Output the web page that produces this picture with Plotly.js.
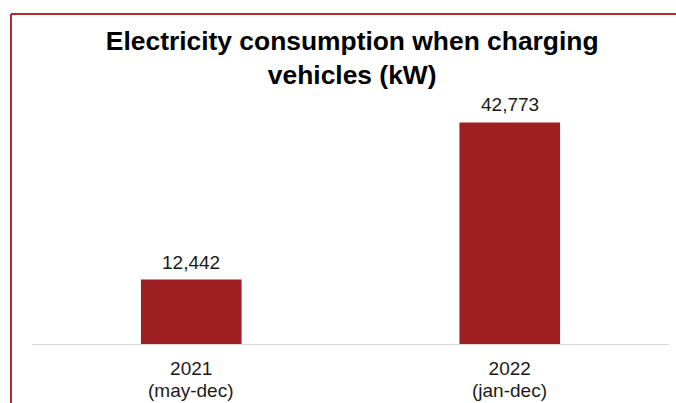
<!DOCTYPE html>
<html>
<head>
<meta charset="utf-8">
<script src="https://cdn.plot.ly/plotly-3.0.1.min.js"></script>
<style>
  html, body { margin: 0; padding: 0; background: #fff; }
  #chart { width: 676px; height: 403px; }
</style>
</head>
<body>
<div id="chart"></div>
<script>
// Data
const years = ["2021", "2022"];
const periods = ["(may-dec)", "(jan-dec)"];
const consumption = [12442, 42773];
const valueLabels = ["12,442", "42,773"];

const FONT = "Liberation Sans, Arial, sans-serif";
const LABEL_FONT = { family: FONT, size: 19, color: "#1a1a1a" };

const trace = {
  type: "bar",
  x: years,
  y: consumption,
  marker: { color: "#9E1F22" },
  hoverinfo: "skip"
};

const valueAnnotations = consumption.map((v, i) => ({
  x: i, xref: "x",
  y: v, yref: "y",
  yanchor: "bottom",
  yshift: 5,
  text: valueLabels[i],
  showarrow: false,
  font: LABEL_FONT
}));

const subAnnotations = periods.map((p, i) => ({
  x: i, xref: "x",
  y: 0, yref: "paper",
  yanchor: "top",
  yshift: -34,
  text: p,
  showarrow: false,
  font: LABEL_FONT
}));

const layout = {
  width: 676,
  height: 403,
  margin: { l: 32, r: 7, t: 100, b: 59 },
  paper_bgcolor: "#ffffff",
  plot_bgcolor: "#ffffff",
  showlegend: false,
  bargap: 0.684,
  title: {
    text: "<b>Electricity consumption when charging<br>vehicles (kW)</b>",
    font: { family: FONT, size: 26.4, color: "#000000" },
    x: 0.521, xref: "container", xanchor: "center",
    y: 0.877, yref: "container", yanchor: "bottom"
  },
  xaxis: {
    type: "category",
    range: [-0.5, 1.5],
    showline: true,
    linecolor: "#d9d9d9",
    linewidth: 1,
    showgrid: false,
    zeroline: false,
    ticks: "",
    ticklabelstandoff: 7,
    tickfont: LABEL_FONT,
    fixedrange: true
  },
  yaxis: {
    range: [0, 47100],
    visible: false,
    showgrid: false,
    zeroline: false,
    fixedrange: true
  },
  annotations: valueAnnotations.concat(subAnnotations),
  shapes: [
    {
      type: "line", xref: "paper", yref: "paper",
      x0: -0.033, x1: 1.2, y0: 1.3525, y1: 1.3525,
      line: { color: "#B8292F", width: 2 }
    },
    {
      type: "line", xref: "paper", yref: "paper",
      x0: -0.033, x1: -0.033, y0: 1.3525, y1: -0.5,
      line: { color: "#B8292F", width: 2 }
    }
  ]
};

Plotly.newPlot("chart", [trace], layout, { displayModeBar: false, staticPlot: true });
</script>
</body>
</html>
